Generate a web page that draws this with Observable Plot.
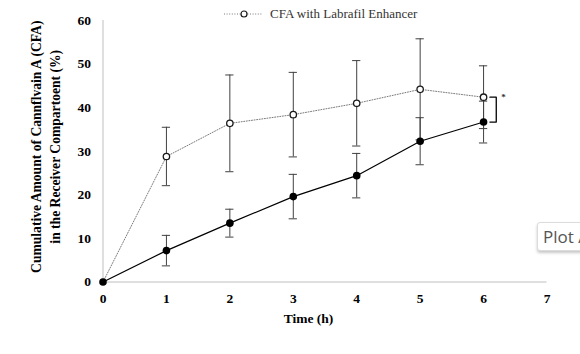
<!DOCTYPE html>
<html>
<head>
<meta charset="utf-8">
<script src="https://cdn.jsdelivr.net/npm/d3@7"></script>
<script src="https://cdn.jsdelivr.net/npm/@observablehq/plot@0.6"></script>
<style>
  html, body { margin: 0; padding: 0; background: #fff; overflow: hidden; }
  #wrap { position: relative; width: 580px; height: 354px; overflow: hidden; }
  #legend { position: absolute; left: 224px; top: 5px; height: 17px; display: flex; align-items: center;
            font-family: "Liberation Serif", serif; font-size: 13px; color: #333; white-space: nowrap; }
  #legend svg { margin-right: 6px; }
  #tag { position: absolute; left: 537px; top: 222px; width: 70px; height: 29px; box-sizing: border-box;
         border: 1px solid #dcdcdc; border-radius: 3px; background: #fff;
         box-shadow: 0 2px 3px rgba(0,0,0,0.22);
         font-family: "Open Sans", "Noto Sans", sans-serif; font-size: 17px; color: #555;
         line-height: 27px; padding-left: 5px; white-space: nowrap; }
</style>
</head>
<body>
<div id="wrap">
  <div id="chart"></div>
  <div id="legend"></div>
  <div id="tag">Plot A</div>
</div>
<script>
// ---- data ----
const times = [0, 1, 2, 3, 4, 5, 6];
const enhancerMean = [0, 28.8, 36.4, 38.4, 41.0, 44.2, 42.4];
const enhancerSd   = [0, 6.7, 11.1, 9.7, 9.8, 11.6, 7.2];
const controlMean  = [0, 7.2, 13.5, 19.6, 24.4, 32.3, 36.7];
const controlSd    = [0, 3.5, 3.2, 5.1, 5.1, 5.4, 4.8];
const xTicks = [0, 1, 2, 3, 4, 5, 6, 7];
const yTicks = [0, 10, 20, 30, 40, 50, 60];
const legendLabel = "CFA with Labrafil Enhancer";
const xTitle = "Time (h)";
const yTitle = "Cumulative Amount of Cannflvain A (CFA)\nin the Receiver Compartoent (%)";
const sigMark = "*";

const enhancer = times.map((t, i) => ({t, v: enhancerMean[i], sd: enhancerSd[i]}));
const control = times.map((t, i) => ({t, v: controlMean[i], sd: controlSd[i]}));
const withErr = (arr) => arr.filter(d => d.sd > 0);

const last = times.length - 1;
const capHalf = 0.065;
const brA = 0.1, brB = 0.2;
const bracket = [
  {t: times[last] + brA, v: enhancerMean[last]},
  {t: times[last] + brB, v: enhancerMean[last]},
  {t: times[last] + brB, v: controlMean[last]},
  {t: times[last] + brA, v: controlMean[last]}
];

const errColor = "#404040";
const serif = "Liberation Serif, Times New Roman, serif";

const errMarks = (arr) => [
  Plot.ruleX(withErr(arr), {x: "t", y1: d => d.v - d.sd, y2: d => d.v + d.sd, stroke: errColor, strokeWidth: 1}),
  Plot.ruleY(withErr(arr), {y: d => d.v + d.sd, x1: d => d.t - capHalf, x2: d => d.t + capHalf, stroke: errColor, strokeWidth: 1}),
  Plot.ruleY(withErr(arr), {y: d => d.v - d.sd, x1: d => d.t - capHalf, x2: d => d.t + capHalf, stroke: errColor, strokeWidth: 1})
];

const chart = Plot.plot({
  width: 580,
  height: 354,
  marginLeft: 102.5,
  marginRight: 33.5,
  marginTop: 20,
  marginBottom: 72.5,
  style: {fontFamily: serif, fontSize: "13px", color: "#000", background: "transparent"},
  x: {domain: [0, 7]},
  y: {domain: [0, 60]},
  marks: [
    Plot.ruleY([0], {stroke: "#bfbfbf", strokeWidth: 1}),
    Plot.ruleX([0], {stroke: "#bfbfbf", strokeWidth: 1}),
    Plot.axisX({ticks: xTicks, tickSize: 0, tickPadding: 11, label: null, fontWeight: "bold", fontSize: 13.5, tickFormat: d => String(d)}),
    Plot.axisY({ticks: yTicks, tickSize: 0, tickPadding: 12, label: null, fontWeight: "bold", fontSize: 13.5, tickFormat: d => String(d)}),
    Plot.line(enhancer, {x: "t", y: "v", stroke: "#7a7a7a", strokeWidth: 1, strokeDasharray: "1,1.6"}),
    Plot.line(control, {x: "t", y: "v", stroke: "#000", strokeWidth: 1.2}),
    ...errMarks(enhancer),
    ...errMarks(control),
    Plot.dot(enhancer.filter(d => d.t > 0), {x: "t", y: "v", r: 3.2, fill: "#fff", stroke: "#1a1a1a", strokeWidth: 1.3}),
    Plot.dot(control, {x: "t", y: "v", r: 3.8, fill: "#000", stroke: "none"}),
    Plot.line(bracket, {x: "t", y: "v", stroke: "#000", strokeWidth: 1.3}),
    Plot.text([sigMark], {x: times[last] + brB, y: enhancerMean[last], dx: 5, dy: 0, textAnchor: "start", fontSize: 9, fontWeight: "bold", fill: "#333"}),
    Plot.text([xTitle], {frameAnchor: "bottom", dx: -16.5, dy: 37, lineAnchor: "middle", fontWeight: "bold", fontSize: 13.5}),
    Plot.text([yTitle], {frameAnchor: "left", rotate: -90, dx: -59, dy: -4.5, lineAnchor: "middle", textAnchor: "middle", lineHeight: 1.4, fontWeight: "bold", fontSize: 13.6})
  ]
});
document.getElementById("chart").appendChild(chart);

// legend
const lg = document.getElementById("legend");
const sw = d3.create("svg").attr("width", 40).attr("height", 10);
sw.append("line").attr("x1", 0).attr("x2", 39).attr("y1", 5).attr("y2", 5)
  .attr("stroke", "#7a7a7a").attr("stroke-width", 1).attr("stroke-dasharray", "1,1.6");
sw.append("circle").attr("cx", 20).attr("cy", 5).attr("r", 3).attr("fill", "#fff")
  .attr("stroke", "#1a1a1a").attr("stroke-width", 1.2);
lg.appendChild(sw.node());
const span = document.createElement("span");
span.textContent = legendLabel;
lg.appendChild(span);
</script>
</body>
</html>
